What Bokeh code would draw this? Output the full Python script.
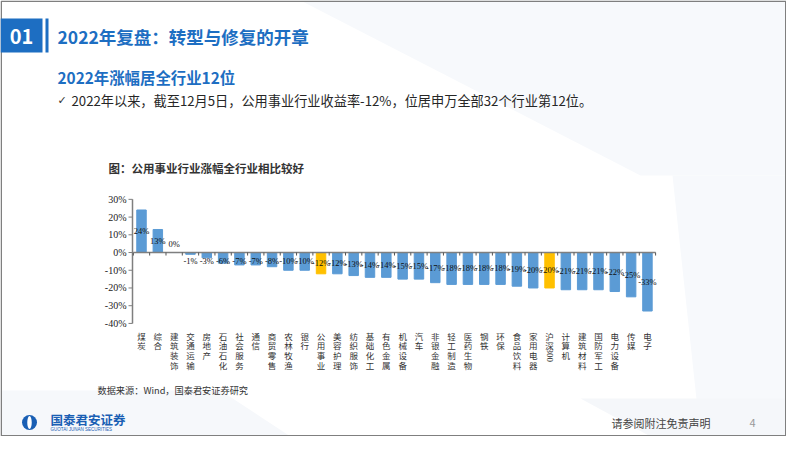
import re
import math
from bokeh.plotting import figure
from bokeh.models import Range1d, ColumnDataSource
from bokeh.embed import file_html
from bokeh.resources import INLINE
from bokeh.core.properties import value

# ---------------- data ----------------
categories = ["煤炭", "综合", "建筑装饰", "交通运输", "房地产", "石油石化", "社会服务", "通信",
              "商贸零售", "农林牧渔", "银行", "公用事业", "美容护理", "纺织服饰", "基础化工", "有色金属",
              "机械设备", "汽车", "非银金融", "轻工制造", "医药生物", "钢铁", "环保", "食品饮料",
              "家用电器", "沪深300", "计算机", "建筑材料", "国防军工", "电力设备", "传媒", "电子"]
returns = [24, 13, 0, -1, -3, -6, -7, -7, -8, -10, -10, -12, -12, -13, -14, -14,
           -15, -15, -17, -18, -18, -18, -18, -19, -20, -20, -21, -21, -21, -22, -25, -33]
highlight = ["公用事业", "沪深300"]
y_ticks = [30, 20, 10, 0, -10, -20, -30, -40]
y_tick_labels = ["30%", "20%", "10%", "0%", "-10%", "-20%", "-30%", "-40%"]

title_text = "2022年复盘：转型与修复的开章"
subtitle_text = "2022年涨幅居全行业12位"
bullet_text = "2022年以来，截至12月5日，公用事业行业收益率-12%，位居申万全部32个行业第12位。"
chart_title = "图：公用事业行业涨幅全行业相比较好"
source_text = "数据来源：Wind，国泰君安证券研究"
footer_text = "请参阅附注免责声明"
page_no = "4"

# ---------------- styles ----------------
W, H = 786, 436
BLUE = "#1D6EC2"
BAR = "#5B9BD5"
HL = "#FFC000"
CJK = value("Noto Sans CJK SC")
SERIF = value("Liberation Serif")

p = figure(width=W, height=H, x_range=Range1d(0, W), y_range=Range1d(H, 0),
           output_backend="svg", toolbar_location=None, min_border=0,
           x_axis_type=None, y_axis_type=None)
p.grid.visible = False
p.outline_line_color = None
p.background_fill_color = "white"
p.border_fill_color = "white"

# chart scales (category index and percent)
p.extra_x_ranges = {"idx": Range1d(-8.64, 39.52)}
p.extra_y_ranges = {"pct": Range1d(-103.8, 142.2)}

# ---------------- background decoration ----------------
p.patch([300, 786, 786, 640], [0, 0, 175, 175], color="#F7F9FC", line_color=None)
p.patch([672, 786, 786, 700], [175, 175, 436, 436], color="#F7F9FC", line_color=None)
p.patch([0, 220, 290, 0], [390, 390, 436, 436], color="#F6F8FB", line_color=None)
p.patch([580, 786, 786, 650], [398, 398, 436, 436], color="#F5F7FA", line_color=None)

# border
p.quad(left=[0.75], right=[W - 0.75], top=[0.75], bottom=[H - 0.75],
       fill_color=None, line_color="#7F7F7F", line_width=1.5)

# ---------------- header ----------------
p.quad(left=[0], right=[42], top=[18], bottom=[52], color=BLUE, line_color=None)
p.text(x=[21], y=[36], text=["01"], text_font=CJK, text_font_style="bold",
       text_font_size="20px", text_color="white", text_align="center", text_baseline="middle")
p.quad(left=[45], right=[48], top=[18], bottom=[52], color=BLUE, line_color=None)
p.text(x=[57], y=[36], text=[title_text], text_font=CJK, text_font_style="bold",
       text_font_size="17.5px", text_color=BLUE, text_baseline="middle")
p.text(x=[57], y=[76], text=[subtitle_text], text_font=CJK, text_font_style="bold",
       text_font_size="15.4px", text_color=BLUE, text_baseline="middle")
p.text(x=[57], y=[100], text=["✓"], text_font=value("DejaVu Sans"),
       text_font_size="11px", text_color="#333333", text_baseline="middle")
p.text(x=[71], y=[100], text=[bullet_text], text_font=CJK,
       text_font_size="13.2px", text_color="#262626", text_baseline="middle")
p.text(x=[108], y=[167], text=[chart_title], text_font=CJK, text_font_style="bold",
       text_font_size="11.5px", text_color="#333333", text_baseline="middle")
p.text(x=[97], y=[389], text=[source_text], text_font=CJK,
       text_font_size="9.2px", text_color="#333333", text_baseline="middle")

# ---------------- footer ----------------
p.circle(x=[29], y=[422], radius=7.5, color="#1A5FB4", line_color=None)
p.ellipse(x=[29], y=[422], width=4.5, height=13, color="white", line_color=None)
p.text(x=[50], y=[419], text=["国泰君安证券"], text_font=CJK, text_font_style="bold",
       text_font_size="12.5px", text_color="#1A5FB4", text_baseline="middle")
p.text(x=[50], y=[429], text=["GUOTAI JUNAN SECURITIES"], text_font=value("Liberation Sans"),
       text_font_size="4.5px", text_color="#1A5FB4", text_baseline="middle")
p.text(x=[611], y=[422], text=[footer_text], text_font=CJK,
       text_font_size="11px", text_color="#444444", text_baseline="middle")
p.text(x=[749], y=[422], text=[page_no], text_font=CJK,
       text_font_size="11px", text_color="#999999", text_baseline="middle")

# ---------------- chart ----------------
idx = list(range(len(categories)))
colors = [HL if c in highlight else BAR for c in categories]
src = ColumnDataSource(dict(x=idx, top=returns, color=colors,
                            lab=[f"{v}%" for v in returns],
                            ly=[math.copysign(max(abs(v) / 2, 5), v if v != 0 else 1) for v in returns]))
p.vbar(x="x", top="top", bottom=0, width=0.58, color="color", source=src,
       x_range_name="idx", y_range_name="pct")

# y axis
p.segment(x0=[132], x1=[132], y0=[min(y_ticks)], y1=[max(y_ticks)], line_color="#7F7F7F",
          line_width=1.5, y_range_name="pct")
p.segment(x0=[128] * len(y_ticks), x1=[132] * len(y_ticks), y0=y_ticks, y1=y_ticks,
          line_color="#7F7F7F", line_width=1, y_range_name="pct")
p.text(x=[126] * len(y_ticks), y=y_ticks, text=y_tick_labels, text_font=SERIF,
       text_font_size="10px", text_color="#222222", text_align="right", text_baseline="middle",
       y_range_name="pct")

# x axis at 0
n = len(categories)
p.segment(x0=[-0.5], x1=[n - 0.5], y0=[0], y1=[0], line_color="#7F7F7F", line_width=1.5,
          x_range_name="idx", y_range_name="pct")
bounds = [i - 0.5 for i in range(n + 1)]
p.segment(x0=bounds, x1=bounds, y0=[0] * len(bounds), y1=[-1.7] * len(bounds),
          line_color="#555555", line_width=1, x_range_name="idx", y_range_name="pct")

# value labels
p.text(x="x", y="ly", text="lab", source=src, text_font=SERIF, text_font_size="8.5px",
       text_color="#111111", text_align="center", text_baseline="middle",
       x_range_name="idx", y_range_name="pct")

# category labels (vertical)
cjk_x, cjk_t, dig_x, dig_t, dig_y = [], [], [], [], []
for i, c in enumerate(categories):
    m = re.match(r"^([^0-9]*)([0-9]*)$", c)
    head, tail = m.group(1), m.group(2)
    cjk_x.append(i)
    cjk_t.append("\n".join(head))
    if tail:
        dig_x.append(i)
        dig_t.append(tail)
        dig_y.append(330 + 9 * len(head))
p.text(x=cjk_x, y=[329] * n, text=cjk_t, text_font=CJK, text_font_size="8.5px",
       text_line_height=0.82, text_color="#333333", text_align="center", text_baseline="top",
       x_range_name="idx")
p.text(x=dig_x, y=dig_y, text=dig_t, text_font=SERIF, text_font_size="9px",
       text_color="#333333", text_align="left", text_baseline="middle", angle=-math.pi / 2,
       x_range_name="idx")

open("out.html", "w").write(file_html(p, INLINE))
